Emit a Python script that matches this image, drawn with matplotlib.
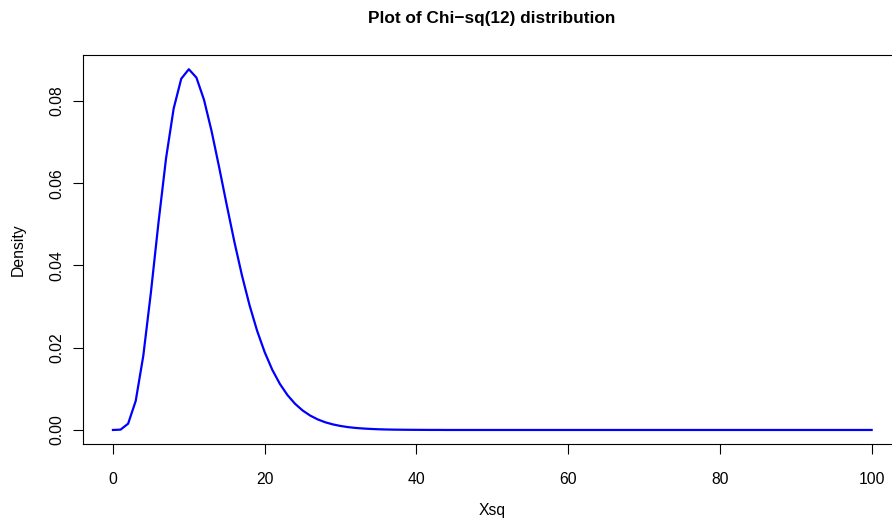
import matplotlib
matplotlib.use("Agg")
import matplotlib.pyplot as plt

# chi-square(12) density at x = 0, 1, ..., 100
xsq = list(range(0, 101))
density = [
    0.0, 0.00008, 0.00153, 0.00706, 0.01804, 0.03340, 0.05041, 0.06609, 0.07815, 0.08541,
    0.08773, 0.08570, 0.08031, 0.07268, 0.06386, 0.05469, 0.04580, 0.03762, 0.03036, 0.02413,
    0.01892, 0.01464, 0.01121, 0.00849, 0.00637, 0.00474, 0.00350, 0.00256, 0.00186, 0.00135,
    0.00097, 0.00069, 0.00049, 0.00035, 0.00025, 0.00017, 0.00012, 0.00008, 0.00006, 0.00004,
    0.00003, 0.00002, 0.00001, 0.00001, 0.0, 0.0, 0.0, 0.0, 0.0, 0.0,
    0.0, 0.0, 0.0, 0.0, 0.0, 0.0, 0.0, 0.0, 0.0, 0.0,
    0.0, 0.0, 0.0, 0.0, 0.0, 0.0, 0.0, 0.0, 0.0, 0.0,
    0.0, 0.0, 0.0, 0.0, 0.0, 0.0, 0.0, 0.0, 0.0, 0.0,
    0.0, 0.0, 0.0, 0.0, 0.0, 0.0, 0.0, 0.0, 0.0, 0.0,
    0.0, 0.0, 0.0, 0.0, 0.0, 0.0, 0.0, 0.0, 0.0, 0.0,
    0.0,
]
xticks = [0, 20, 40, 60, 80, 100]
yticks = [0.00, 0.02, 0.04, 0.06, 0.08]

plt.rcParams['font.family'] = ['Liberation Sans', 'DejaVu Sans']

W, H = 892, 520
fig = plt.figure(figsize=(W / 100, H / 100), dpi=100)
# plot region in pixels: left 82.6, right 902 (runs off the canvas), top 54.8, bottom 444.4
ax = fig.add_axes([82.6 / W, (H - 444.4) / H, (902 - 82.6) / W, (444.4 - 54.8) / H])

ax.plot(xsq, density, color="#0000ff", lw=1.6)

# R style 4% padding
xr = max(xsq) - min(xsq)
yr = max(density) - min(density)
ax.set_xlim(min(xsq) - 0.04 * xr, max(xsq) + 0.04 * xr)
ax.set_ylim(min(density) - 0.04 * yr, max(density) + 0.04 * yr)

ax.set_xticks(xticks)
ax.set_xticklabels([str(t) for t in xticks])
ax.set_yticks(yticks)
ax.set_yticklabels([f"{t:.2f}" for t in yticks], rotation=90, va="center")
ax.tick_params(direction="out", length=7, width=0.8, labelsize=11.3)
ax.tick_params(axis="x", pad=13)
ax.tick_params(axis="y", pad=6)
for s in ax.spines.values():
    s.set_linewidth(0.8)

fig.text(492 / W, 1 - 18 / H, "Plot of Chi\u2212sq(12) distribution",
         ha="center", va="center", fontsize=12.4, fontweight="bold")
fig.text(492 / W, 1 - 510 / H, "Xsq", ha="center", va="center", fontsize=11.3)
fig.text(18 / W, 1 - 250 / H, "Density", ha="center", va="center",
         rotation=90, fontsize=11.3)

fig.savefig("out.png", dpi=100)
